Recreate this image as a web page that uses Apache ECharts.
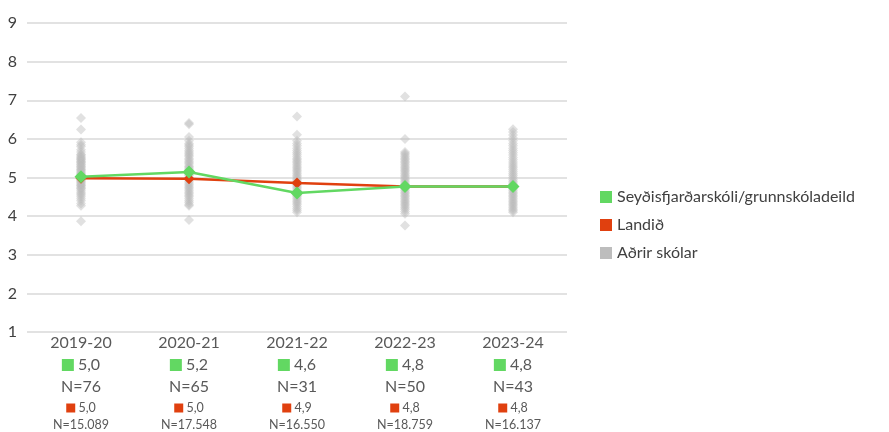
<!DOCTYPE html>
<html><head><meta charset="utf-8">
<script src="https://cdn.jsdelivr.net/npm/echarts@6/dist/echarts.min.js"></script>
<style>html,body{margin:0;padding:0;background:#fff}#c{width:889px;height:432px}</style>
</head><body><div id="c"></div>
<script>
const categories = ['2019-20','2020-21','2021-22','2022-23','2023-24'];
const schoolName = 'Seyðisfjarðarskóli/grunnskóladeild';
const schoolValues = [5.02, 5.14, 4.60, 4.77, 4.77];
const nationalValues = [4.98, 4.97, 4.86, 4.77, 4.77];
const schoolLabels = ['5,0','5,2','4,6','4,8','4,8'];
const schoolN = ['76','65','31','50','43'];
const nationalLabels = ['5,0','5,0','4,9','4,8','4,8'];
const nationalN = ['15.089','17.548','16.550','18.759','16.137'];
const yTicks = [1,2,3,4,5,6,7,8,9];
const others2019 = [6.54,6.24,5.91,5.85,5.8,5.72,5.66,5.6,5.58,5.55,5.52,5.5,5.47,5.45,5.42,5.4,5.38,5.35,5.33,5.3,5.28,5.25,5.22,5.2,5.18,5.15,5.12,5.1,5.08,5.05,5.02,5.0,4.98,4.95,4.92,4.9,4.88,4.85,4.82,4.8,4.78,4.75,4.72,4.7,4.66,4.62,4.58,4.55,4.5,4.45,4.4,4.33,4.27,3.87];
const others2020 = [6.41,6.38,6.05,5.95,5.88,5.84,5.8,5.75,5.7,5.66,5.62,5.58,5.55,5.5,5.46,5.42,5.38,5.35,5.3,5.27,5.24,5.2,5.16,5.12,5.08,5.05,5.0,4.97,4.94,4.9,4.86,4.82,4.78,4.74,4.7,4.66,4.62,4.58,4.54,4.5,4.45,4.4,4.35,4.3,4.27,3.90];
const others2021 = [6.58,6.11,5.95,5.88,5.82,5.76,5.7,5.65,5.6,5.55,5.5,5.46,5.42,5.38,5.34,5.3,5.26,5.22,5.18,5.14,5.1,5.06,5.02,4.98,4.94,4.9,4.86,4.82,4.78,4.74,4.7,4.66,4.62,4.58,4.54,4.5,4.46,4.42,4.38,4.34,4.3,4.25,4.2,4.15,4.1];
const others2022 = [7.1,6.0,5.66,5.62,5.58,5.54,5.5,5.46,5.42,5.38,5.34,5.3,5.26,5.22,5.18,5.14,5.1,5.06,5.02,4.98,4.94,4.9,4.86,4.82,4.78,4.74,4.7,4.66,4.62,4.58,4.54,4.5,4.46,4.42,4.38,4.34,4.3,4.26,4.22,4.18,4.12,4.06,3.76];
const others2023 = [6.25,6.18,6.1,6.02,5.95,5.88,5.82,5.76,5.7,5.64,5.58,5.52,5.46,5.4,5.35,5.3,5.25,5.2,5.15,5.1,5.05,5.0,4.95,4.9,4.86,4.82,4.78,4.74,4.7,4.66,4.62,4.58,4.54,4.5,4.46,4.42,4.38,4.34,4.3,4.26,4.22,4.18,4.14,4.1];

const GREEN = '#62d862', RED = '#e0400f', GREY = '#bdbdbd';
const FONT = 'Lato';
const othersAll = [others2019, others2020, others2021, others2022, others2023];
const scatterData = [];
othersAll.forEach((arr, i) => arr.forEach(v => scatterData.push([i, v])));

const chart = echarts.init(document.getElementById('c'));
chart.setOption({
  animation: false,
  textStyle: { fontFamily: FONT },
  grid: { left: 27, right: 322, top: 23, bottom: 100 },
  legend: {
    orient: 'vertical', left: 595, top: 184, itemWidth: 12, itemHeight: 12, itemGap: 12,
    icon: 'rect',
    textStyle: { fontSize: 16, color: '#404040', fontFamily: FONT },
    data: [
      { name: schoolName, itemStyle: { color: GREEN } },
      { name: 'Landið', itemStyle: { color: RED } },
      { name: 'Aðrir skólar', itemStyle: { color: GREY, opacity: 1 } }
    ]
  },
  xAxis: {
    type: 'category', data: categories, boundaryGap: true,
    axisLine: { show: false }, axisTick: { show: false },
    axisLabel: {
      margin: 0, interval: 0,
      formatter: (v, i) => `{yr|${v}}\n{g| }{gv| ${schoolLabels[i]}}\n{n|N=${schoolN[i]}}\n{r| }{rv| ${nationalLabels[i]}}\n{rn|N=${nationalN[i]}}`,
      rich: {
        yr: { fontSize: 16, color: '#595959', lineHeight: 22, fontFamily: FONT },
        g: { backgroundColor: GREEN, width: 12, height: 12, lineHeight: 22 },
        gv: { fontSize: 16, color: '#595959', lineHeight: 22, fontFamily: FONT },
        n: { fontSize: 16, color: '#595959', lineHeight: 22, fontFamily: FONT },
        r: { backgroundColor: RED, width: 9, height: 9, lineHeight: 20 },
        rv: { fontSize: 12.5, color: '#595959', lineHeight: 20, fontFamily: FONT },
        rn: { fontSize: 12.5, color: '#595959', lineHeight: 14, fontFamily: FONT }
      }
    }
  },
  yAxis: {
    type: 'value', min: 1, max: 9, interval: 1,
    axisLine: { show: false }, axisTick: { show: false },
    axisLabel: { fontSize: 16, color: '#404040', margin: 10, fontFamily: FONT,
      formatter: v => yTicks.includes(v) ? String(v) : '' },
    splitLine: { lineStyle: { color: '#d9d9d9', width: 1.5 } }
  },
  series: [
    { name: 'Aðrir skólar', type: 'scatter', data: scatterData, symbol: 'diamond', symbolSize: 10,
      itemStyle: { color: GREY, opacity: 0.45 }, z: 1, silent: true },
    { name: 'Landið', type: 'line', data: nationalValues, symbol: 'diamond', symbolSize: 11,
      lineStyle: { color: RED, width: 2.5 }, itemStyle: { color: RED }, z: 3 },
    { name: schoolName, type: 'line', data: schoolValues, symbol: 'diamond', symbolSize: 13,
      lineStyle: { color: GREEN, width: 2.5 }, itemStyle: { color: GREEN }, z: 4 }
  ]
});
</script></body></html>
